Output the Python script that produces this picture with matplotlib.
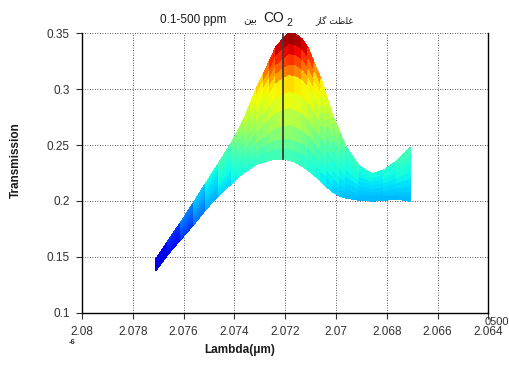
import numpy as np
import matplotlib.pyplot as plt
from matplotlib.ticker import FormatStrFormatter

# wavelength grid (um) and CO2 concentrations (ppm)
wavelength = [2.0771, 2.0766, 2.0761, 2.0756, 2.0751, 2.0746, 2.0741, 2.07385, 2.0736, 2.07335,
              2.0731, 2.07285, 2.0726, 2.07235, 2.0721, 2.07185, 2.0716, 2.07135, 2.0711, 2.07085,
              2.0706, 2.07035, 2.0701, 2.06985, 2.0696, 2.0691, 2.0686, 2.0681, 2.0676, 2.0671]
concentration = [0.1, 50, 100, 150, 200, 250, 300, 350, 400, 450, 500]

# transmission curves, one per concentration
t_0p1 = [0.1480, 0.1640, 0.1810, 0.1986, 0.2158, 0.2335, 0.2525, 0.2630, 0.2755, 0.2890,
         0.3020, 0.3145, 0.3265, 0.3375, 0.3450, 0.3500, 0.3496, 0.3449, 0.3365, 0.3235,
         0.3095, 0.2925, 0.2748, 0.2610, 0.2482, 0.2312, 0.2240, 0.2280, 0.2360, 0.2470]
t_50 = [0.1471, 0.1629, 0.1795, 0.1968, 0.2136, 0.2308, 0.2491, 0.2591, 0.2708, 0.2843,
        0.2951, 0.3075, 0.3171, 0.3289, 0.3349, 0.3393, 0.3388, 0.3343, 0.3263, 0.3141,
        0.3009, 0.2850, 0.2685, 0.2557, 0.2439, 0.2283, 0.2218, 0.2255, 0.2328, 0.2425]
t_100 = [0.1463, 0.1619, 0.1783, 0.1952, 0.2118, 0.2285, 0.2462, 0.2557, 0.2669, 0.2795,
         0.2896, 0.3011, 0.3100, 0.3208, 0.3263, 0.3303, 0.3296, 0.3252, 0.3176, 0.3061,
         0.2936, 0.2786, 0.2632, 0.2512, 0.2403, 0.2259, 0.2199, 0.2233, 0.2300, 0.2387]
t_150 = [0.1456, 0.1610, 0.1771, 0.1936, 0.2099, 0.2263, 0.2432, 0.2524, 0.2629, 0.2747,
         0.2841, 0.2947, 0.3029, 0.3128, 0.3178, 0.3212, 0.3204, 0.3161, 0.3089, 0.2980,
         0.2863, 0.2723, 0.2578, 0.2467, 0.2366, 0.2234, 0.2180, 0.2211, 0.2272, 0.2349]
t_200 = [0.1448, 0.1600, 0.1758, 0.1921, 0.2081, 0.2240, 0.2403, 0.2490, 0.2589, 0.2699,
         0.2786, 0.2884, 0.2958, 0.3047, 0.3092, 0.3121, 0.3112, 0.3071, 0.3003, 0.2900,
         0.2789, 0.2659, 0.2525, 0.2421, 0.2329, 0.2209, 0.2161, 0.2190, 0.2245, 0.2311]
t_250 = [0.1436, 0.1584, 0.1738, 0.1894, 0.2050, 0.2202, 0.2355, 0.2435, 0.2523, 0.2618,
         0.2695, 0.2777, 0.2839, 0.2912, 0.2949, 0.2970, 0.2959, 0.2920, 0.2858, 0.2767,
         0.2668, 0.2553, 0.2436, 0.2346, 0.2269, 0.2169, 0.2129, 0.2154, 0.2199, 0.2248]
t_300 = [0.1423, 0.1568, 0.1717, 0.1868, 0.2019, 0.2164, 0.2306, 0.2379, 0.2457, 0.2538,
         0.2604, 0.2671, 0.2721, 0.2778, 0.2806, 0.2819, 0.2805, 0.2769, 0.2714, 0.2633,
         0.2546, 0.2447, 0.2347, 0.2271, 0.2208, 0.2128, 0.2098, 0.2118, 0.2153, 0.2185]
t_350 = [0.1410, 0.1552, 0.1696, 0.1842, 0.1988, 0.2126, 0.2257, 0.2323, 0.2390, 0.2457,
         0.2512, 0.2564, 0.2602, 0.2643, 0.2662, 0.2667, 0.2651, 0.2617, 0.2569, 0.2499,
         0.2423, 0.2340, 0.2258, 0.2195, 0.2147, 0.2087, 0.2066, 0.2082, 0.2107, 0.2121]
t_400 = [0.1400, 0.1539, 0.1680, 0.1821, 0.1964, 0.2096, 0.2218, 0.2279, 0.2338, 0.2394,
         0.2440, 0.2480, 0.2507, 0.2536, 0.2549, 0.2547, 0.2529, 0.2497, 0.2454, 0.2393,
         0.2326, 0.2256, 0.2187, 0.2135, 0.2098, 0.2054, 0.2041, 0.2053, 0.2070, 0.2071]
t_450 = [0.1393, 0.1530, 0.1667, 0.1806, 0.1945, 0.2073, 0.2189, 0.2245, 0.2298, 0.2345,
         0.2385, 0.2416, 0.2436, 0.2455, 0.2463, 0.2456, 0.2437, 0.2407, 0.2367, 0.2312,
         0.2253, 0.2192, 0.2133, 0.2090, 0.2062, 0.2030, 0.2022, 0.2032, 0.2043, 0.2033]
t_500 = [0.1385, 0.1520, 0.1655, 0.1790, 0.1927, 0.2050, 0.2160, 0.2212, 0.2258, 0.2297,
         0.2330, 0.2352, 0.2365, 0.2374, 0.2377, 0.2365, 0.2345, 0.2316, 0.2280, 0.2232,
         0.2180, 0.2128, 0.2080, 0.2045, 0.2025, 0.2005, 0.2003, 0.2010, 0.2015, 0.1995]

# vertical marker line
marker_lambda = 2.0721
marker_range = [0.2377, 0.35]

# colour scale: transmission -> position on jet
color_T = [0.138, 0.17, 0.20, 0.215, 0.228, 0.241, 0.250, 0.260, 0.273, 0.288, 0.302,
           0.314, 0.323, 0.332, 0.344, 0.351]
color_pos = [0.06, 0.17, 0.30, 0.35, 0.39, 0.43, 0.47, 0.52, 0.57, 0.63, 0.66,
             0.77, 0.84, 0.90, 0.97, 1.0]

curves = np.array([t_0p1, t_50, t_100, t_150, t_200, t_250, t_300, t_350, t_400, t_450, t_500])
lam = np.array(wavelength)
X = np.tile(lam, (len(concentration), 1))

# quad colour from mean of corners
quad = (curves[:-1, :-1] + curves[1:, :-1] + curves[:-1, 1:] + curves[1:, 1:]) / 4
C = np.interp(quad, color_T, color_pos)

TICK_FONT = 'Liberation Sans'

fig = plt.figure(figsize=(5.1, 3.65), dpi=100)
ax = fig.add_axes([0.1608, 0.1438, 0.7969, 0.7647])

ax.pcolormesh(X, curves, C, cmap='jet', vmin=0, vmax=1, shading='flat',
              edgecolors='face', linewidth=0.3, zorder=2)
ax.plot([marker_lambda, marker_lambda], marker_range, color='#3c3c3c', lw=1.3, zorder=3)

ax.set_xlim(2.08, 2.064)
ax.set_ylim(0.1, 0.35)
ax.set_xticks([2.08, 2.078, 2.076, 2.074, 2.072, 2.07, 2.068, 2.066, 2.064])
ax.set_yticks([0.1, 0.15, 0.2, 0.25, 0.3, 0.35])
ax.xaxis.set_major_formatter(FormatStrFormatter('%g'))
ax.yaxis.set_major_formatter(FormatStrFormatter('%g'))
ax.grid(True, color='#222222', linestyle=(0, (1, 2)), linewidth=0.6)
ax.set_axisbelow(True)
ax.spines['top'].set_visible(False)
for s in ['left', 'bottom', 'right']:
    ax.spines[s].set_linewidth(1.0)
ax.tick_params(direction='out', length=4, width=0.8, labelsize=8.5, colors='#303030', pad=5)
ax.tick_params(axis='x', pad=6)
for lbl in ax.get_xticklabels() + ax.get_yticklabels():
    lbl.set_family(TICK_FONT)

ax.set_xlabel('Lambda(\u03bcm)', fontsize=8.5, fontweight='bold', color='#1a1a1a', family=TICK_FONT)
ax.xaxis.set_label_coords(0.389, -0.113)
ax.set_ylabel('Transmission', fontsize=8.5, fontweight='bold', color='#1a1a1a', family=TICK_FONT)
ax.yaxis.set_label_coords(-0.148, 0.546)

# exponent and concentration axis remnants
fig.text(72 / 510, 1 - 343 / 365, '-6', fontsize=5.5, fontweight='bold', color='#303030',
         ha='center', va='center', family=TICK_FONT)
fig.text(497 / 510, 1 - 322 / 365, '0500', fontsize=8, color='#303030', ha='center', va='center',
         family=TICK_FONT)

# title (Persian words given in visual, shaped form)
bein = '\uFEE6\uFEF4\uFE91'
gholzat = '\uFE96\uFEC7\uFEE0\uFECF'
gaz = '\uFEAF\uFE8E\uFB94'
ty = 1 - 20 / 365
fig.text(160 / 510, ty, '0.1-500 ppm', fontsize=8.5, color='#1a1a1a', ha='left', va='center',
         family=TICK_FONT)
fig.text(250 / 510, ty, bein, fontsize=7.5, color='#1a1a1a', ha='center', va='center',
         family=['DejaVu Sans'])
fig.text(263 / 510, 1 - 18 / 365, 'CO', fontsize=10, color='#1a1a1a', ha='left', va='center',
         family=TICK_FONT)
fig.text(289.5 / 510, 1 - 23 / 365, '2', fontsize=7.5, color='#1a1a1a', ha='center', va='center',
         family=TICK_FONT)
fig.text(334 / 510, ty, gaz + ' ' + gholzat, fontsize=6.5, color='#1a1a1a', ha='center', va='center',
         family=['DejaVu Sans'])

fig.savefig('out.png', dpi=100)
